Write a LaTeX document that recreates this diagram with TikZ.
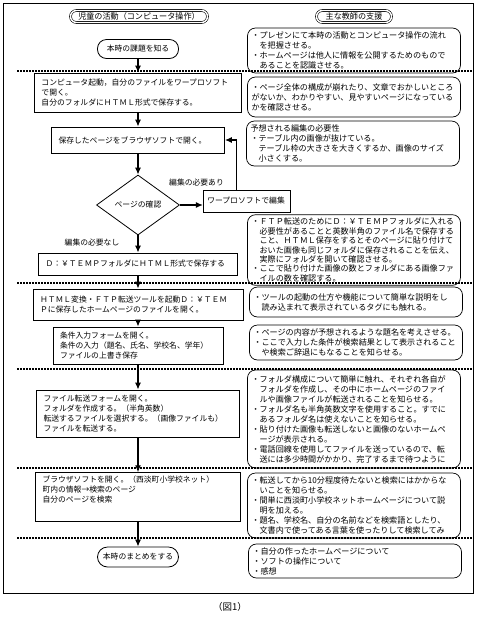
\documentclass[tikz,border=0pt]{standalone}
\usepackage{fontspec}
\usepackage{tikz}
\usetikzlibrary{arrows.meta,positioning,shapes.geometric}
\newfontfamily\jpfont{Noto Sans CJK JP}
\newcommand{\actfont}{\jpfont\fontsize{7.8}{10}\selectfont}
\newcommand{\supfont}{\jpfont\fontsize{8.1}{10}\selectfont}

\begin{document}
\begin{tikzpicture}[
    x=1pt, y=-1pt,
    >=Latex,
    every node/.style={font=\actfont},
    headbox/.style={
        draw,
        double,
        double distance=1.4pt,
        line width=0.6pt,
        rounded corners=6pt,
        minimum height=12pt,
        inner ysep=1pt,
        font=\supfont
    },
    termbox/.style={
        draw,
        line width=0.8pt,
        rounded corners=9pt,
        minimum width=81pt,
        minimum height=19pt
    },
    actbox/.style 2 args={
        draw,
        line width=0.8pt,
        align=left,
        inner xsep=7pt,
        text width=#1,
        minimum height=#2
    },
    decide/.style={
        draw,
        diamond,
        line width=0.8pt,
        minimum width=83pt,
        minimum height=60pt,
        inner sep=0pt
    },
    supbox/.style 2 args={
        draw,
        line width=0.7pt,
        rounded corners=8pt,
        align=left,
        inner xsep=4pt,
        font=\supfont,
        text width=#1,
        minimum height=#2
    },
    flow/.style={-{Latex[length=7pt,width=6pt]}, line width=1.2pt},
    sep/.style={line width=1.6pt, dash pattern=on 1.6pt off 1.4pt}
]
  \useasboundingbox (0,0) rectangle (477,622);
  \draw[line width=0.8pt] (3,3) rectangle (473,593);

  \node[headbox, minimum width=137pt] (hdrL) at (139,16.5) {児童の活動（コンピュータ操作）};
  \node[headbox, minimum width=75pt] (hdrR) at (354,16.5) {主な教師の支援};

  \node[termbox] (start) at (138,49) {本時の課題を知る};
  \node[actbox={193pt}{39pt}] (open) at (138,92.5) {コンピュータ起動，自分のファイルをワープロソフト\\で開く。\\自分のフォルダにＨＴＭＬ形式で保存する。};
  \node[actbox={159pt}{26pt}] (view) at (138,140) {保存したページをブラウザソフトで開く。};
  \node[decide] (check) at (138,205) {ページの確認};
  \node[actbox={79pt}{22pt}, inner xsep=4pt, right=23pt of check, yshift=4pt] (wp) {ワープロソフトで編集};
  \node (yes) at (196.5,183) {編集の必要あり};
  \node (no) at (92,243) {編集の必要なし};
  \node[actbox={185pt}{22pt}] (save) at (138,264) {Ｄ：￥ＴＥＭＰフォルダにＨＴＭＬ形式で保存する};
  \node[actbox={196pt}{31pt}] (tool) at (138,304.5) {ＨＴＭＬ変換・ＦＴＰ転送ツールを起動Ｄ：￥ＴＥＭ\\Ｐに保存したホームページのファイルを開く。};
  \node[actbox={156pt}{37pt}] (form) at (138,345.5) {条件入力フォームを開く。\\条件の入力（題名、氏名、学校名、学年）\\ファイルの上書き保存};
  \node[actbox={189pt}{47pt}] (send) at (138,413.5) {ファイル転送フォームを開く。\\フォルダを作成する。（半角英数）\\転送するファイルを選択する。（画像ファイルも）\\ファイルを転送する。};
  \node[actbox={191pt}{48pt}] (search) at (138,497) {\parbox[c][42pt][t]{191pt}{ブラウザソフトを開く。（西淡町小学校ネット）\\町内の情報→検索のページ\\自分のページを検索}};
  \node[termbox, minimum height=20pt, rounded corners=10pt] (finish) at (138,557) {本時のまとめをする};

  \node[supbox={205pt}{45pt}] (aim) at (354,50.5) {・プレゼンにて本時の活動とコンピュータ操作の流れ\\　を把握させる。\\・ホームページは他人に情報を公開するためのもので\\　あることを認識させる。};
  \node[supbox={205pt}{40pt}] (layout) at (354,97) {・ページ全体の構成が崩れたり、文章でおかしいところ\\がないか、わかりやすい、見やすいページになっている\\かを確認させる。};
  \node[supbox={205pt}{45pt}] (need) at (353,143.5) {予想される編集の必要性\\・テーブル内の画像が抜けている。\\　テーブル枠の大きさを大きくするか、画像のサイズ\\　小さくする。};
  \node[supbox={205pt}{66pt}, font=\jpfont\fontsize{8.1}{9.4}\selectfont] (ftp) at (354,250) {・ＦＴＰ転送のためにＤ：￥ＴＥＭＰフォルダに入れる\\　必要性があることと英数半角のファイル名で保存する\\　こと、ＨＴＭＬ保存をするとそのページに貼り付けて\\　おいた画像も同じフォルダに保存されることを伝え、\\　実際にフォルダを開いて確認させる。\\・ここで貼り付けた画像の数とフォルダにある画像ファ\\　イルの数を確認する。};
  \node[supbox={205pt}{30pt}] (howto) at (356,302) {・ツールの起動の仕方や機能について簡単な説明をし\\　読み込まれて表示されているタグにも触れる。};
  \node[supbox={205pt}{35pt}] (title) at (356,342.5) {・ページの内容が予想されるような題名を考えさせる。\\・ここで入力した条件が検索結果として表示されること\\　や検索ご辞退にもなることを知らせる。};
  \node[supbox={205pt}{98pt}] (folder) at (354,419) {・フォルダ構成について簡単に触れ、それぞれ各自が\\　フォルダを作成し、その中にホームページのファイ\\　ルや画像ファイルが転送されることを知らせる。\\・フォルダ名も半角英数文字を使用すること。すでに\\　あるフォルダ名は使えないことを知らせる。\\・貼り付けた画像も転送しないと画像のないホームペ\\　ージが表示される。\\・電話回線を使用してファイルを送っているので、転\\　送には多少時間がかかり、完了するまで待つように};
  \node[supbox={205pt}{65pt}] (wait) at (354,505.5) {・転送してから10分程度待たないと検索にはかからな\\　いことを知らせる。\\・間単に西淡町小学校ネットホームページについて説\\　明を加える。\\・題名、学校名、自分の名前などを検索語としたり、\\　文書内で使ってある言葉を使ったりして検索してみ};
  \node[supbox={205pt}{32pt}] (review) at (355,561) {・自分の作ったホームページについて\\・ソフトの操作について\\・感想};

  \node[font=\jpfont\fontsize{9.5}{11}\selectfont] (cap) at (230,607) {（図1）};

  \draw[sep] (17,71) -- (472,71);
  \draw[sep] (17,283) -- (472,283);
  \draw[sep] (17,369) -- (472,369);
  \draw[sep] (17,468) -- (472,468);
  \draw[sep] (17,538) -- (472,538);

  \draw[flow] (start) -- (open);
  \draw[flow] (open) -- (view);
  \draw[flow] (view) -- (check);
  \draw[flow] (check) -- (save);
  \draw[flow] (save) -- (tool);
  \draw[flow] (tool) -- (form);
  \draw[flow] (form) -- (send);
  \draw[flow] (send) -- (search);
  \draw[flow] (search) -- (finish);
  \draw[flow] (check.east) -- (check.east -| wp.west);
  \draw[flow] ([xshift=-10.5pt]wp.north) |- (view.east);
\end{tikzpicture}
\end{document}
